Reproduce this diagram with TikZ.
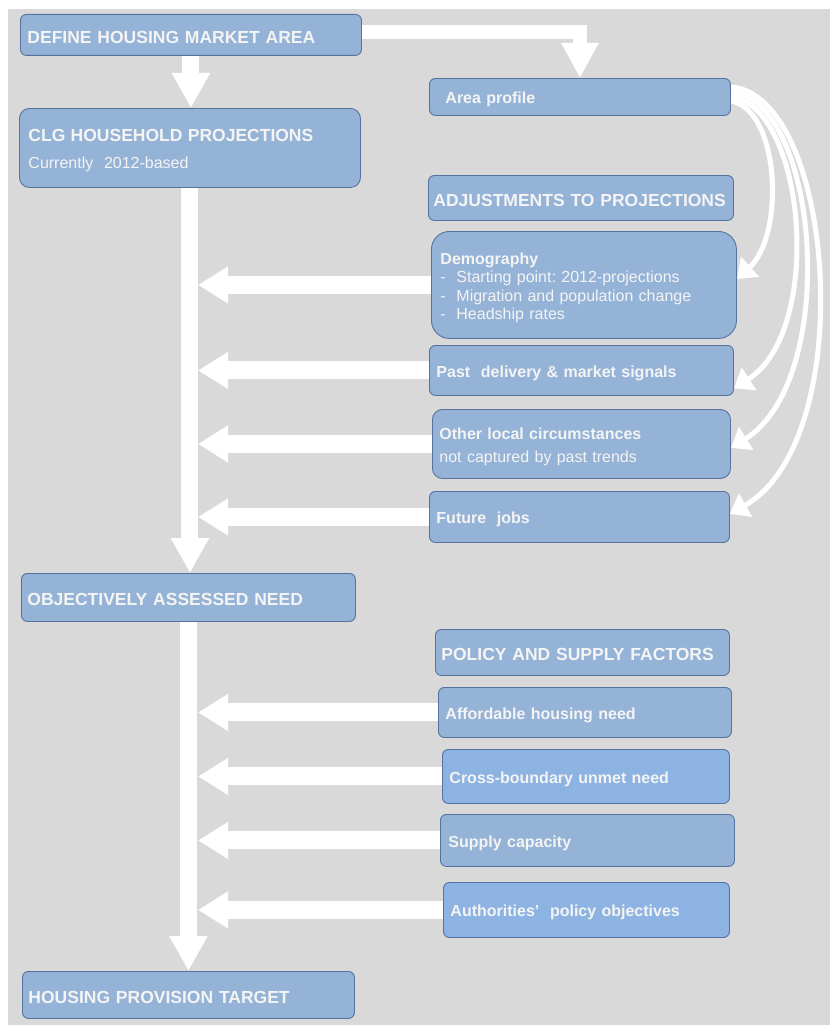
\documentclass[tikz,border=0pt]{standalone}
\usepackage{fontspec}
\setmainfont{Liberation Sans}
\usetikzlibrary{arrows.meta}
\frenchspacing
\definecolor{boxc}{RGB}{149,179,215}
\definecolor{boxcb}{RGB}{141,179,226}
\definecolor{bordc}{RGB}{85,115,158}
\definecolor{txtc}{RGB}{244,244,244}
\definecolor{bgc}{RGB}{217,217,217}
\newcommand\hdf{\fontsize{17.5}{20}\selectfont\bfseries}
\newcommand\lbf{\fontsize{16}{18.5}\selectfont\bfseries}
\newcommand\rgf{\fontsize{16}{18.5}\selectfont}
\pgfdeclarelayer{back}
\pgfdeclarelayer{mid}
\pgfsetlayers{back,mid,main}
\begin{document}
\begin{tikzpicture}[x=1pt,y=-1pt,
  box/.style={draw=bordc, fill=boxc, line width=0.9pt, rounded corners=6pt, text=txtc, anchor=north west, align=left, inner ysep=1pt, execute at begin node={\frenchspacing\rule{0pt}{17pt}}},
  dims/.style n args={3}{minimum width=#1pt, minimum height=#2pt, inner xsep=#3pt, text width=#1pt-2*#3pt},
  harr/.style={draw=white, line width=18pt, -{Triangle[length=30pt,width=35pt]}},
  varr/.style={draw=white, line width=17pt, -{Triangle[length=35pt,width=36pt]}},
  earr/.style={draw=white, line width=14pt, line join=miter, -{Triangle[length=35pt,width=35pt]}},
  cv/.style={draw=white, line width=5pt, -{Triangle[length=18pt,width=26pt]}}]
\useasboundingbox (0,0) rectangle (830,1025);
\begin{pgfonlayer}{back}
\fill[white] (0,0) rectangle (830,1025);
\fill[bgc] (8,9) rectangle (830,1025);
\end{pgfonlayer}

\node[box,dims={341}{41}{7},font=\hdf] (def) at (20,14) {DEFINE HOUSING MARKET AREA};
\node[box,dims={341}{79}{9},rounded corners=10pt,font=\rgf] (clg) at (19,108) {{\hdf CLG HOUSEHOLD PROJECTIONS}\\[9pt]Currently~ 2012-based};
\node[box,dims={301}{37}{16},font=\lbf] (area) at (429,78) {Area profile};
\node[box,dims={305}{45}{5},font=\hdf] (adj) at (428,175) {ADJUSTMENTS TO PROJECTIONS};
\node[box,dims={305}{107}{9},rounded corners=18pt,font=\rgf] (dem) at (431,231) {\textbf{Demography}\\-\ \ Starting point: 2012-projections\\-\ \ Migration and population change\\-\ \ Headship rates};
\node[box,dims={304}{50}{7},font=\lbf] (past) at (429,345) {Past~ delivery \& market signals};
\node[box,dims={298}{69}{7},rounded corners=10pt,font=\rgf] (oth) at (432,409) {\textbf{Other local circumstances}\\[4pt]not captured by past trends};
\node[box,dims={300}{51}{7},font=\lbf] (fut) at (429,491) {Future~ jobs};
\node[box,dims={334}{48}{6},font=\hdf] (oan) at (21,573) {OBJECTIVELY ASSESSED NEED};
\node[box,dims={294}{46}{6},font=\hdf] (pol) at (435,629) {POLICY AND SUPPLY FACTORS};
\node[box,dims={293}{50}{7},font=\lbf] (aff) at (438,687) {Affordable housing need};
\node[box,fill=boxcb,dims={287}{54}{7},font=\lbf] (crs) at (442,749) {Cross-boundary unmet need};
\node[box,dims={294}{52}{8},font=\lbf] (sup) at (440,814) {Supply capacity};
\node[box,fill=boxcb,dims={286}{55}{7},font=\lbf] (aut) at (443,882) {Authorities'~ policy objectives};
\node[box,dims={332}{47}{6},font=\hdf] (hpt) at (22,971) {HOUSING PROVISION TARGET};

\coordinate (sr) at (198,0);
\begin{pgfonlayer}{mid}
\draw[varr] (def.south) -- (def.south |- clg.north);
\draw[varr] (clg.south) -- (clg.south |- oan.north);
\draw[varr] (oan.south) -- (oan.south |- hpt.north);
\draw[earr] ([yshift=3pt]def.east) -| (area.north);
\foreach \b in {dem,past,oth,fut,aff,crs,sup,aut}
  \draw[harr] (\b.west) -- (\b.west -| sr);
\draw[cv] ([yshift=-4pt]area.east) .. controls (780,110) and (785,235) .. ([yshift=6pt]dem.east);
\draw[cv] ([yshift=0pt]area.east) .. controls (805,105) and (825,330) .. ([yshift=-18pt]past.east);
\draw[cv] ([yshift=5pt]area.east) .. controls (820,100) and (840,380) .. ([yshift=-4pt]oth.east);
\draw[cv] ([yshift=10pt]area.east) .. controls (835,95) and (860,440) .. ([yshift=3pt]fut.east);
\end{pgfonlayer}
\end{tikzpicture}
\end{document}
